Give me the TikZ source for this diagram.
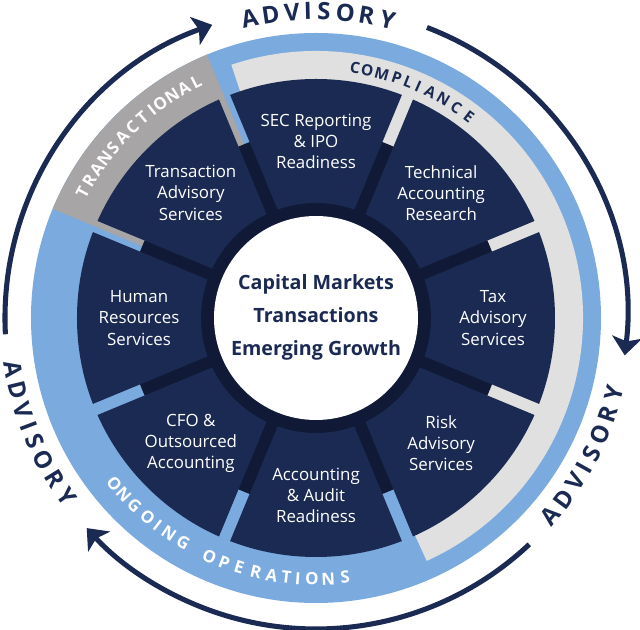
\documentclass[tikz,border=0pt]{standalone}
\usepackage{fontspec}
\setmainfont{Open Sans}
\usepackage{tikz}
\usetikzlibrary{arrows.meta}
\definecolor{Navy}{RGB}{27, 42, 82}
\definecolor{NavyDark}{RGB}{16, 25, 53}
\definecolor{SkyBlue}{RGB}{123, 170, 223}
\definecolor{Stone}{RGB}{167, 165, 166}
\definecolor{Mist}{RGB}{224, 224, 224}

\begin{document}
\begin{tikzpicture}[
        x=0.025cm, y=0.025cm,
        segtxt/.style={
            align=center,
            text=white,
            font=\fontsize{12}{15}\selectfont
        },
        hubtxt/.style={
            align=center,
            text=Navy,
            font=\fontsize{14}{23.5}\selectfont\bfseries
        },
        ringtxt/.style={
            inner sep=0pt,
            text=Navy,
            font=\fontsize{17}{17}\selectfont\bfseries
        },
        bandtxt/.style={
            inner sep=0pt,
            font=\fontsize{11}{11}\selectfont\bfseries
        },
        bandtxtbig/.style={
            bandtxt,
            text=white,
            font=\fontsize{12}{12}\selectfont\bfseries
        },
        cyclearrow/.style={
            -{Stealth[length=13pt, width=21pt, inset=3pt]},
            line width=3.6pt,
            draw=Navy
        }
    ]
        \fill[white] (-316,-312) rectangle (324,318);
        \useasboundingbox (-316,-312) rectangle (324,318);

        % Bands
        \fill[SkyBlue] (0,0) circle[radius=285];
        \fill[Stone] (0,0) -- (112.5:285) arc[start angle=112.5, end angle=157.5, radius=285] -- cycle;
        \fill[Mist] (0,0) -- (-65.5:267) arc[start angle=-65.5, end angle=108.5, radius=267] -- cycle;
        \fill[NavyDark] (0,0) circle[radius=188];

        % Segments
        \foreach \c/\txt [count=\i] in {
            90/{SEC Reporting\\\& IPO\\Readiness},
            45/{Technical\\Accounting\\Research},
            0/{Tax\\Advisory\\Services},
            -45/{Risk\\Advisory\\Services},
            -90/{Accounting\\\& Audit\\Readiness},
            -135/{CFO \&\\Outsourced\\Accounting},
            180/{Human\\Resources\\Services},
            135/{Transaction\\Advisory\\Services}} {
            \begin{scope}
                \clip[shift={(\c:15.7)}] (0,0) -- ({\c-22.5}:400) -- ({\c+22.5}:400) -- cycle;
                \fill[Navy, even odd rule] (0,0) circle[radius=239] (0,0) circle[radius=115];
            \end{scope}
            \node[segtxt] (seg-\i) at (\c:177) {\txt};
        }

        % Hub
        \fill[white] (0,0) circle[radius=102];
        \node[hubtxt] (hub) at (0,1) {Capital Markets\\Transactions\\Emerging Growth};

        % Band labels
        \foreach \ch/\a [count=\i] in {C/81.1, O/78.3, M/74.9, P/71.4, L/68.6, I/66.2, A/63.1, N/59.8, C/56.3, E/52.8}
            \node[bandtxt, text=Navy, rotate=\a-90] (comp-\i) at (\a:253) {\ch};
        \foreach \ch/\a [count=\i] in {T/151.7, R/148.8, A/145.8, N/142.9, S/140.0, A/137.0, C/133.9, T/130.9, I/128.3, O/126.0, N/122.9, A/119.9, L/116.9}
            \node[bandtxtbig, rotate=\a-90] (trans-\i) at (\a:265) {\ch};
        \foreach \ch/\a [count=\i] in {O/219.4, N/222.5, G/225.9, O/229.8, I/232.6, N/235.7, G/239.4, O/245.9, P/249.4, E/252.9, R/256.7, A/260.2, T/263.5, I/266.0, O/269.1, N/272.7, S/276.4}
            \node[bandtxtbig, rotate=\a+90] (ops-\i) at (\a:261) {\ch};

        % Outer labels
        \foreach \ch/\a [count=\i] in {A/102.5, D/98.5, V/94.5, I/91.5, S/88.5, O/84.5, R/80.5, Y/76.5} {
            \node[ringtxt, rotate=\a-90] (advtop-\i) at (\a:307) {\ch};
            \node[ringtxt, rotate=382.1-\a] (advleft-\i) at ({292.1-\a}:307) {\ch};
            \node[ringtxt, rotate=152.3-\a] (advright-\i) at ({62.3-\a}:307) {\ch};
        }

        % Paths
        \coordinate (arcA) at (183:311);
        \coordinate (arcB) at (69.1:311);
        \coordinate (arcC) at (-46.7:311);
        \draw[cyclearrow] (arcA) arc[start angle=183, end angle=109.5, radius=311];
        \draw[cyclearrow] (arcB) arc[start angle=69.1, end angle=-6.9, radius=311];
        \draw[cyclearrow] (arcC) arc[start angle=-46.7, end angle=-137.5, radius=311];
    \end{tikzpicture}
\end{document}
